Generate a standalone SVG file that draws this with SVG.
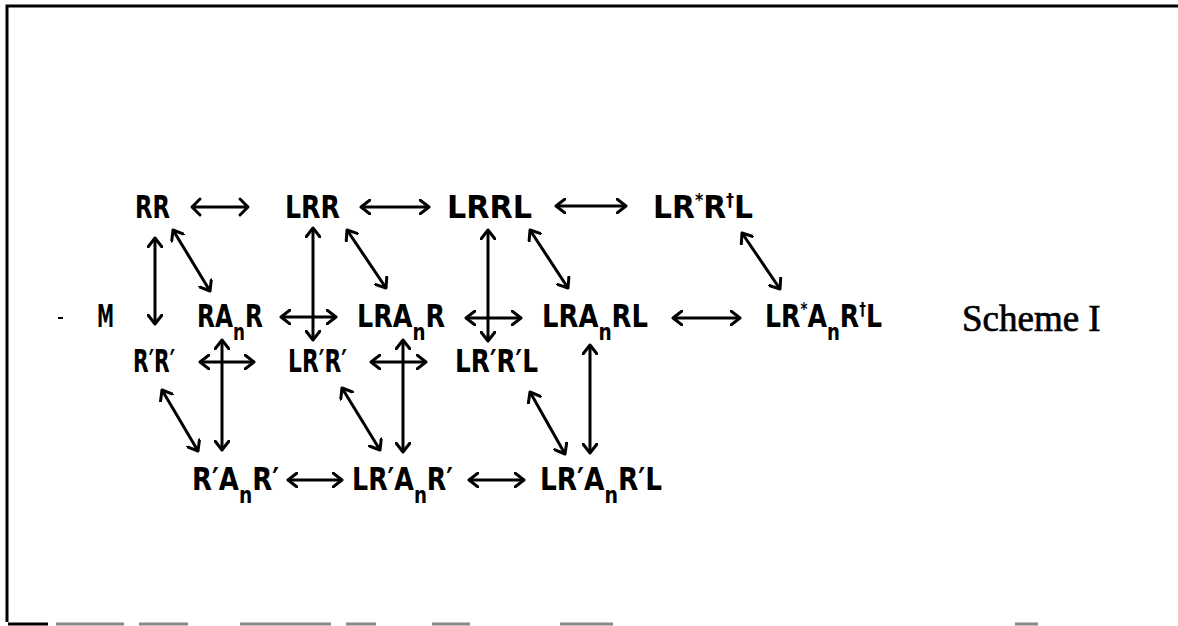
<svg xmlns="http://www.w3.org/2000/svg" width="1178" height="626" viewBox="0 0 1178 626">
  <style>
    .sp { font-family: "DejaVu Sans", "Liberation Sans", sans-serif; font-size: 32px; font-weight: bold; fill: #000; }
    .sub { font-size: 23px; }
    .sup { font-size: 17px; }
    .title { font-family: "Liberation Serif", "Times New Roman", serif; font-size: 37px; fill: #000; stroke: #000; stroke-width: 0.7px; }
    .arr { stroke: #000; stroke-width: 3; fill: none; marker-start: url(#head); marker-end: url(#head); }
    .frame { stroke: #000; stroke-width: 3; fill: none; }
  </style>
  <defs>
    <marker id="head" viewBox="0 0 12 16" refX="10" refY="8" markerWidth="12" markerHeight="16" markerUnits="userSpaceOnUse" orient="auto-start-reverse">
      <path d="M1,1 L10,8 L1,15" fill="none" stroke="#000" stroke-width="3" stroke-linecap="round" stroke-linejoin="round"/>
    </marker>
  </defs>

  <rect width="1178" height="626" fill="#fff"/>

  <!-- page frame -->
  <g id="frame">
    <path class="frame" d="M7,622 L7,6 L1178,6"/>
    <path d="M8,624 L48,624" stroke="#000" stroke-width="3"/>
    <path d="M56,624 H124 M139,624 H188 M240,624 H331 M346,624 H376 M432,624 H470 M560,624 H613 M1015,624 H1038" stroke="#888" stroke-width="3"/>
  </g>

  <!-- stray mark left of M -->
  <path d="M58,318 L63,318" stroke="#000" stroke-width="2"/>

  <!-- row 1 -->
  <g id="n-RR"><text class="sp" x="135" y="218" textLength="35" lengthAdjust="spacingAndGlyphs">RR</text></g>
  <g id="n-LRR"><text class="sp" x="285" y="218" textLength="55" lengthAdjust="spacingAndGlyphs">LRR</text></g>
  <g id="n-LRRL"><text class="sp" x="447" y="218" textLength="85" lengthAdjust="spacingAndGlyphs">LRRL</text></g>
  <g id="n-LRsRdL"><text class="sp" x="653" y="218" textLength="100" lengthAdjust="spacingAndGlyphs">LR<tspan class="sup" dy="-12">*</tspan><tspan dy="12">R</tspan><tspan class="sup" dy="-12">†</tspan><tspan dy="12">L</tspan></text></g>

  <!-- row 2 -->
  <g id="n-M"><text class="sp" x="97" y="327" textLength="17" lengthAdjust="spacingAndGlyphs">M</text></g>
  <g id="n-RAnR"><text class="sp" x="197" y="327" textLength="66" lengthAdjust="spacingAndGlyphs">RA<tspan class="sub" dy="13">n</tspan><tspan dy="-13">R</tspan></text></g>
  <g id="n-LRAnR"><text class="sp" x="357" y="327" textLength="88" lengthAdjust="spacingAndGlyphs">LRA<tspan class="sub" dy="13">n</tspan><tspan dy="-13">R</tspan></text></g>
  <g id="n-LRAnRL"><text class="sp" x="542" y="327" textLength="106" lengthAdjust="spacingAndGlyphs">LRA<tspan class="sub" dy="13">n</tspan><tspan dy="-13">RL</tspan></text></g>
  <g id="n-LRsAnRdL"><text class="sp" x="765" y="327" textLength="117" lengthAdjust="spacingAndGlyphs">LR<tspan class="sup" dy="-12">*</tspan><tspan dy="12">A</tspan><tspan class="sub" dy="13">n</tspan><tspan dy="-13">R</tspan><tspan class="sup" dy="-12">†</tspan><tspan dy="12">L</tspan></text></g>
  <g id="title"><text class="title" x="962" y="331">Scheme I</text></g>

  <!-- row 3 -->
  <g id="n-RpRp"><text class="sp" x="133" y="372" textLength="42" lengthAdjust="spacingAndGlyphs">R′R′</text></g>
  <g id="n-LRpRp"><text class="sp" x="288" y="372" textLength="59" lengthAdjust="spacingAndGlyphs">LR′R′</text></g>
  <g id="n-LRpRpL"><text class="sp" x="455" y="372" textLength="83" lengthAdjust="spacingAndGlyphs">LR′R′L</text></g>

  <!-- row 4 -->
  <g id="n-RpAnRp"><text class="sp" x="192" y="490" textLength="87" lengthAdjust="spacingAndGlyphs">R′A<tspan class="sub" dy="13">n</tspan><tspan dy="-13">R′</tspan></text></g>
  <g id="n-LRpAnRp"><text class="sp" x="352" y="490" textLength="101" lengthAdjust="spacingAndGlyphs">LR′A<tspan class="sub" dy="13">n</tspan><tspan dy="-13">R′</tspan></text></g>
  <g id="n-LRpAnRpL"><text class="sp" x="540" y="490" textLength="122" lengthAdjust="spacingAndGlyphs">LR′A<tspan class="sub" dy="13">n</tspan><tspan dy="-13">R′L</tspan></text></g>

  <!-- equilibria -->
  <g id="connectors">
    <!-- row 1 horizontals -->
    <path d="M200,199 L192,207 L200,215 M194,207 L246,207 M240,199 L248,207 L240,215" stroke="#000" stroke-width="3" fill="none" stroke-linejoin="round" stroke-linecap="round"/>
    <line class="arr" x1="361" y1="207" x2="429" y2="207"/>
    <line class="arr" x1="556" y1="206" x2="626" y2="206"/>
    <!-- row 2 horizontals -->
    <line class="arr" x1="281" y1="317" x2="336" y2="317"/>
    <line class="arr" x1="466" y1="318" x2="521" y2="318"/>
    <line class="arr" x1="673" y1="318" x2="740" y2="318"/>
    <!-- row 3 horizontals -->
    <line class="arr" x1="200" y1="362" x2="254" y2="362"/>
    <line class="arr" x1="371" y1="362" x2="426" y2="362"/>
    <!-- row 4 horizontals -->
    <line class="arr" x1="288" y1="480" x2="342" y2="480"/>
    <line class="arr" x1="469" y1="480" x2="524" y2="480"/>
    <!-- verticals -->
    <line class="arr" x1="155" y1="238" x2="155" y2="324"/>
    <line class="arr" x1="313" y1="228" x2="313" y2="340"/>
    <line class="arr" x1="488" y1="230" x2="488" y2="341"/>
    <line class="arr" x1="222" y1="340" x2="222" y2="450"/>
    <line class="arr" x1="403" y1="340" x2="403" y2="452"/>
    <line class="arr" x1="590" y1="345" x2="590" y2="453"/>
    <!-- diagonals -->
    <line class="arr" x1="173" y1="230" x2="210" y2="291"/>
    <line class="arr" x1="347" y1="230" x2="386" y2="288"/>
    <line class="arr" x1="530" y1="230" x2="568" y2="288"/>
    <line class="arr" x1="742" y1="233" x2="780" y2="289"/>
    <line class="arr" x1="162" y1="390" x2="198" y2="451"/>
    <line class="arr" x1="342" y1="388" x2="380" y2="450"/>
    <line class="arr" x1="530" y1="392" x2="565" y2="454"/>
  </g>
</svg>
